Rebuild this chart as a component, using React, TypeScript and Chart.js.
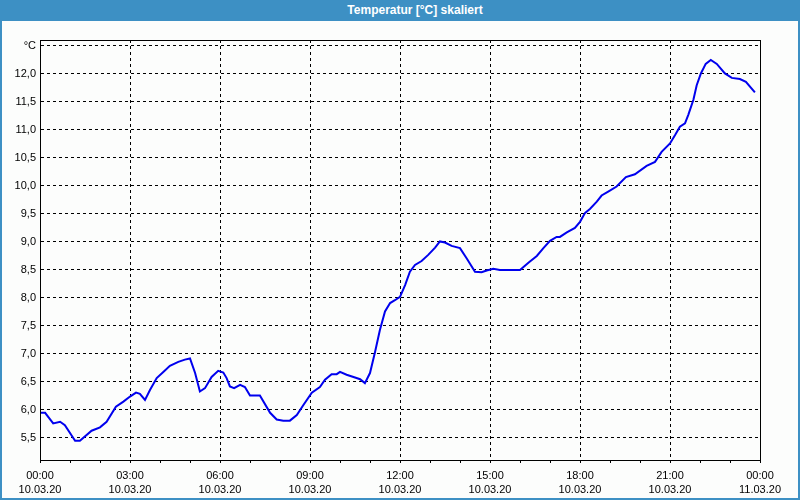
import React, { useEffect, useRef } from "react";
import { Chart, registerables } from "chart.js";

Chart.register(...registerables);

const TITLE = "Temperatur [°C] skaliert";
const hours = [
  0, 0.17, 0.44, 0.67, 0.83, 1.17, 1.33, 1.72, 2.0, 2.22, 2.53, 2.78, 3.0, 3.2, 3.33, 3.5, 3.67, 3.89, 4.11, 4.33,
  4.61, 4.83, 5.0, 5.17, 5.33, 5.5, 5.72, 5.94, 6.11, 6.22, 6.33, 6.47, 6.67, 6.83, 7.0, 7.33, 7.67, 7.89, 8.11,
  8.33, 8.56, 8.78, 9.06, 9.33, 9.5, 9.72, 9.89, 10.0, 10.22, 10.5, 10.67, 10.83, 11.0, 11.17, 11.33, 11.5, 11.67,
  11.83, 12.0, 12.17, 12.33, 12.5, 12.72, 12.94, 13.17, 13.33, 13.5, 13.72, 14.0, 14.22, 14.5, 14.72, 14.89, 15.11,
  15.33, 16.0, 16.28, 16.56, 16.78, 17.0, 17.22, 17.33, 17.56, 17.83, 18.0, 18.17, 18.33, 18.56, 18.72, 18.94,
  19.22, 19.53, 19.83, 20.22, 20.5, 20.72, 21.0, 21.17, 21.33, 21.5, 21.61, 21.78, 21.89, 22.03, 22.19, 22.36,
  22.56, 22.83, 23.06, 23.33, 23.53, 23.83,
];
const temps = [
  5.95, 5.95, 5.76, 5.79, 5.73, 5.45, 5.45, 5.63, 5.69, 5.79, 6.06, 6.15, 6.24, 6.31, 6.29, 6.18, 6.36, 6.57, 6.68,
  6.79, 6.86, 6.9, 6.92, 6.66, 6.33, 6.39, 6.59, 6.7, 6.67, 6.57, 6.42, 6.39, 6.45, 6.41, 6.26, 6.26, 5.95, 5.83,
  5.81, 5.81, 5.91, 6.09, 6.31, 6.41, 6.54, 6.64, 6.64, 6.68, 6.63, 6.58, 6.55, 6.48, 6.66, 7.04, 7.43, 7.76, 7.91,
  7.96, 8.02, 8.23, 8.47, 8.59, 8.66, 8.77, 8.9, 9.01, 8.99, 8.93, 8.89, 8.71, 8.47, 8.46, 8.49, 8.52, 8.5, 8.5,
  8.63, 8.75, 8.89, 9.02, 9.09, 9.09, 9.17, 9.25, 9.36, 9.52, 9.59, 9.72, 9.83, 9.9, 9.99, 10.16, 10.21, 10.36,
  10.43, 10.61, 10.76, 10.91, 11.06, 11.12, 11.27, 11.54, 11.8, 12.01, 12.18, 12.25, 12.18, 12.01, 11.93, 11.91,
  11.86, 11.67,
];
const xTickHours = [0, 1, 2, 3, 4, 5, 6, 7, 8, 9, 10, 11, 12, 13, 14, 15, 16, 17, 18, 19, 20, 21, 22, 23, 24];
const yTickValues = [5.5, 6, 6.5, 7, 7.5, 8, 8.5, 9, 9.5, 10, 10.5, 11, 11.5, 12, 12.5];
const dayLabels = ["10.03.20", "11.03.20"];
const unitLabel = "°C";
const Y_MIN = 5.107;
const Y_MAX = 12.607;

const FONT = "'Liberation Sans', Arial, sans-serif";

const frame = {
  id: "frame",
  afterDraw(chart: any) {
    const { ctx, chartArea: a } = chart;
    ctx.save();
    ctx.strokeStyle = "#000";
    ctx.lineWidth = 1;
    ctx.setLineDash([]);
    ctx.strokeRect(Math.round(a.left) + 0.5, Math.round(a.top) + 0.5, Math.round(a.right - a.left), Math.round(a.bottom - a.top));
    ctx.restore();
  },
};

export default function App() {
  const ref = useRef<HTMLCanvasElement>(null);
  useEffect(() => {
    const chart = new Chart(ref.current!, {
      type: "line",
      data: {
        datasets: [
          {
            data: hours.map((h, i) => ({ x: h, y: temps[i] })),
            borderColor: "#0000ee",
            borderWidth: 2,
            pointRadius: 0,
            tension: 0,
            fill: false,
          },
        ],
      },
      options: {
        animation: false,
        responsive: false,
        maintainAspectRatio: false,
        layout: { padding: { left: 0, top: 19, right: 38, bottom: 0 } },
        plugins: { legend: { display: false }, tooltip: { enabled: false }, title: { display: false } },
        scales: {
          x: {
            type: "linear",
            min: 0,
            max: 24,
            afterBuildTicks: (s: any) => {
              s.ticks = xTickHours.map((v) => ({ value: v }));
            },
            afterFit: (s: any) => {
              s.height = 38;
            },
            grid: {
              color: (c: any) => (c.tick && c.tick.value % 3 === 0 && c.tick.value !== 0 && c.tick.value !== 24 ? "#000" : "rgba(0,0,0,0)"),
              tickColor: "#000",
              tickLength: 3,
              lineWidth: 1,
            },
            border: { display: true, color: "#000", dash: [3, 3] },
            ticks: {
              autoSkip: false,
              maxRotation: 0,
              padding: 6,
              color: "#000",
              font: { family: FONT, size: 11, lineHeight: 1.27 },
              callback: (v: any) => {
                const n = Number(v);
                if (n % 3 !== 0) return "";
                const hh = String(n % 24).padStart(2, "0") + ":00";
                return [hh, n < 24 ? dayLabels[0] : dayLabels[1]];
              },
            },
          },
          y: {
            type: "linear",
            min: Y_MIN,
            max: Y_MAX,
            afterBuildTicks: (s: any) => {
              s.ticks = yTickValues.map((v) => ({ value: v }));
            },
            afterFit: (s: any) => {
              s.width = 38;
            },
            grid: { color: "#000", drawTicks: false, lineWidth: 1 },
            border: { display: true, color: "#000", dash: [3, 3] },
            ticks: {
              padding: 4,
              color: "#000",
              font: { family: FONT, size: 11 },
              callback: (v: any) => {
                const n = Number(v);
                if (n === 12.5) return unitLabel;
                return n.toFixed(1).replace(".", ",");
              },
            },
          },
        },
      },
      plugins: [frame],
    } as any);
    return () => chart.destroy();
  }, []);

  return (
    <div style={{ position: "fixed", left: 0, top: 0, width: 800, height: 500, background: "#3d90c4", overflow: "hidden" }}>
      <div
        style={{
          position: "absolute",
          left: 0,
          top: 0,
          width: 800,
          height: 21,
          color: "#fff",
          fontFamily: FONT,
          fontWeight: "bold",
          fontSize: 12,
          lineHeight: "20px",
          textAlign: "center",
          paddingLeft: 30,
          boxSizing: "border-box",
        }}
      >
        {TITLE}
      </div>
      <div style={{ position: "absolute", left: 2, top: 21, width: 796, height: 477, background: "#fcfdfc" }}>
        <canvas ref={ref} width={796} height={477} style={{ display: "block", width: 796, height: 477 }} />
      </div>
    </div>
  );
}
